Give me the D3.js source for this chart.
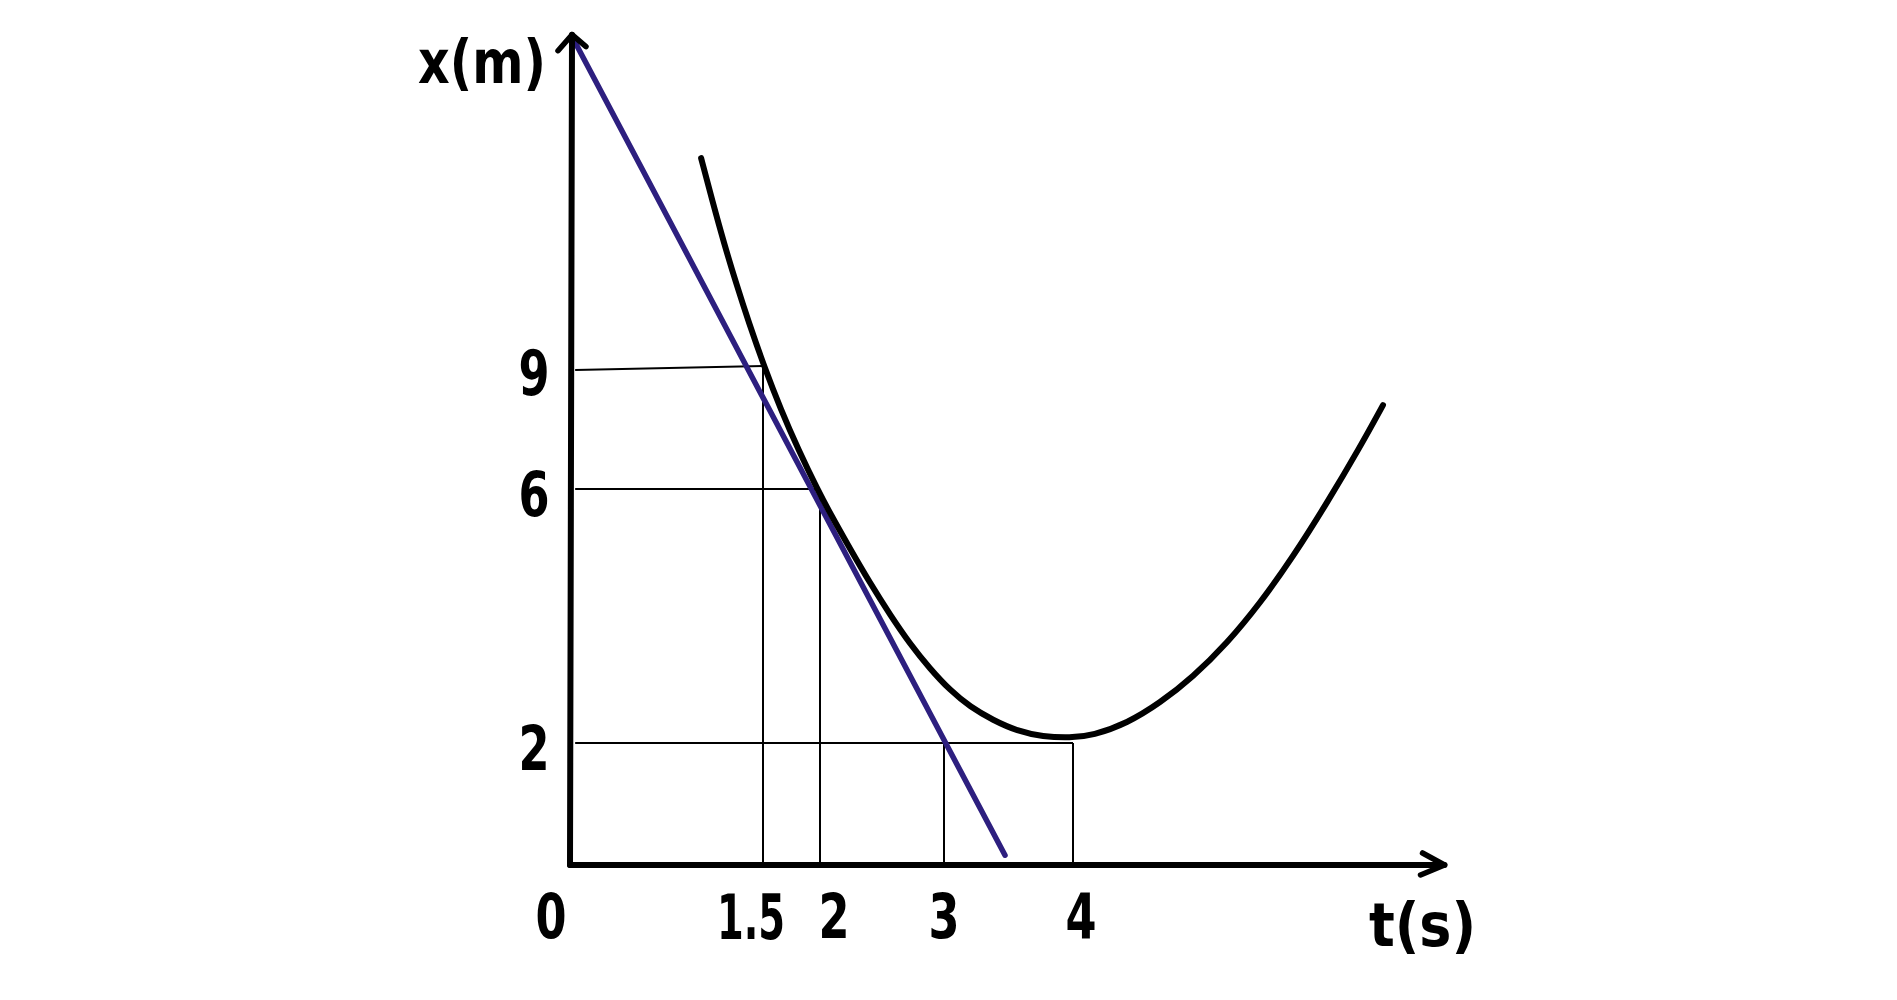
<!DOCTYPE html>
<html>
<head>
<meta charset="utf-8">
<script src="https://cdn.jsdelivr.net/npm/d3@7"></script>
<style>
  html, body { margin: 0; padding: 0; background: #ffffff; }
  svg { display: block; }
  text { font-family: "DejaVu Sans", "Liberation Sans", sans-serif; font-weight: bold; fill: #000; }
</style>
</head>
<body>
<svg id="chart" width="1897" height="1000"></svg>
<script>
// ---- data (t in s, x in m) ----
const xTickValues = [0, 1.5, 2, 3, 4];
const xTickLabels = ["0", "1.5", "2", "3", "4"];
const yTickValues = [2, 6, 9];
const yTickLabels = ["2", "6", "9"];

// position curve x(t)
const curveT = [1.019, 1.104, 1.197, 1.29, 1.391, 1.509, 1.658, 1.811, 1.982, 2.081, 2.242, 2.403, 2.565, 2.726, 2.887, 3.047, 3.202, 3.38, 3.566, 3.767, 3.977, 4.155, 4.419, 4.674, 4.93, 5.194, 5.45, 5.705, 5.969, 6.225, 6.403];
const curveX = [12.18, 11.55, 10.89, 10.29, 9.68, 9.03, 7.96, 6.97, 5.98, 5.62, 5.06, 4.52, 4.02, 3.56, 3.17, 2.83, 2.57, 2.36, 2.19, 2.10, 2.08, 2.12, 2.31, 2.63, 3.04, 3.57, 4.2, 4.93, 5.78, 7.04, 8.08];

// tangent line at t = 2
const tangentT = [0.03, 3.473];
const tangentX = [13.97, 0.16];

// guide lines: the points the dropped lines reach
const guideT = [1.5, 2, 3, 4];
const guideX = [9, 6, 2, 2];

// axis extents
const tMax = 6.88;
const xMax = 14.05;

const svg = d3.select("#chart");

// hand-drawn axes are not evenly spaced: polylinear scales through the labelled ticks
const x = d3.scaleLinear()
  .domain([0, 1.5, 2, 3, 4])
  .range([570, 763, 820, 944, 1073]);
const y = d3.scaleLinear()
  .domain([0, 2, 6, 9, 14])
  .range([865, 743, 489, 368, 38]);

// ---- guide lines (thin) ----
const g = svg.append("g").attr("stroke", "#000").attr("stroke-width", 2).attr("fill", "none");
guideT.forEach((t, i) => {
  const v = guideX[i];
  if (i !== 2) {
    g.append("line")
      .attr("x1", x(0.04)).attr("y1", y(v) + (v === 9 ? 2 : 0))
      .attr("x2", x(t)).attr("y2", y(v) - (v === 9 ? 2 : 0));
  }
  g.append("line")
    .attr("x1", x(t)).attr("y1", y(0) - 2)
    .attr("x2", x(t)).attr("y2", y(v));
});

// ---- tangent line (blue) ----
const line = d3.line().x(d => x(d[0])).y(d => y(d[1]));
svg.append("path")
  .datum(tangentT.map((t, i) => [t, tangentX[i]]))
  .attr("d", line)
  .attr("fill", "none")
  .attr("stroke", "#2d1f7f")
  .attr("stroke-width", 5.5)
  .attr("stroke-linecap", "round");

// ---- position curve (black) ----
const curveLine = d3.line().x(d => x(d[0])).y(d => y(d[1])).curve(d3.curveBasis);
svg.append("path")
  .datum(curveT.map((t, i) => [t, curveX[i]]))
  .attr("d", curveLine)
  .attr("fill", "none")
  .attr("stroke", "#000")
  .attr("stroke-width", 6)
  .attr("stroke-linecap", "round");

// ---- axes with arrows ----
const ax = svg.append("g").attr("stroke", "#000").attr("fill", "none")
  .attr("stroke-width", 6).attr("stroke-linecap", "round").attr("stroke-linejoin", "round");
ax.append("line").attr("x1", x(0)).attr("y1", y(0)).attr("x2", x(tMax)).attr("y2", y(0));
ax.append("path").attr("stroke-width", 5.5)
  .attr("d", `M${x(tMax) - 22},${y(0) - 12} L${x(tMax)},${y(0)} L${x(tMax) - 24},${y(0) + 10}`);
ax.append("line").attr("x1", x(0)).attr("y1", y(0)).attr("x2", x(0) + 2).attr("y2", y(xMax));
ax.append("path").attr("stroke-width", 5.5)
  .attr("d", `M${x(0) - 12},${y(xMax) + 16} L${x(0) + 2},${y(xMax)} L${x(0) + 16},${y(xMax) + 12}`);

// ---- tick labels ----
const xNudge = v => v === 0 ? -19 : v === 1.5 ? -12 : v === 2 ? 14 : v === 4 ? 8 : 0;
svg.selectAll("text.xt")
  .data(xTickValues)
  .enter().append("text")
  .attr("class", "xt")
  .attr("transform", d => `translate(${x(d) + xNudge(d)},${y(0) + 52}) scale(${d === 1.5 ? 0.62 : 0.72},1)`)
  .attr("text-anchor", "middle")
  .attr("dominant-baseline", "central")
  .attr("font-size", 62)
  .text((d, i) => xTickLabels[i]);

svg.selectAll("text.yt")
  .data(yTickValues)
  .enter().append("text")
  .attr("class", "yt")
  .attr("transform", d => `translate(${x(0) - 36},${y(d) + 6}) scale(0.72,1)`)
  .attr("text-anchor", "middle")
  .attr("dominant-baseline", "central")
  .attr("font-size", 62)
  .text((d, i) => yTickLabels[i]);

// ---- axis titles ----
svg.append("text")
  .attr("transform", `translate(${x(0) - 88},${y(xMax) + 28}) scale(0.82,1)`)
  .attr("text-anchor", "middle").attr("dominant-baseline", "central")
  .attr("font-size", 60)
  .text("x(m)");
svg.append("text")
  .attr("transform", `translate(${x(tMax) - 22},${y(0) + 60}) scale(0.9,1)`)
  .attr("text-anchor", "middle").attr("dominant-baseline", "central")
  .attr("font-size", 60)
  .text("t(s)");
</script>
</body>
</html>
